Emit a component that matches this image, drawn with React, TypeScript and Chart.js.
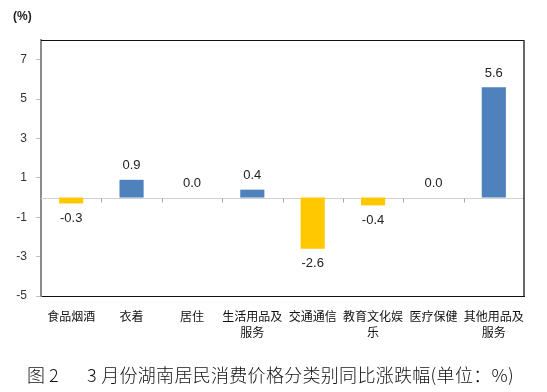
import React, { useEffect, useRef } from "react";
import { Chart, registerables } from "chart.js";

Chart.register(...registerables);

const categories: (string | string[])[] = [
  "食品烟酒",
  "衣着",
  "居住",
  ["生活用品及", "服务"],
  "交通通信",
  ["教育文化娱", "乐"],
  "医疗保健",
  ["其他用品及", "服务"],
];
const values: number[] = [-0.3, 0.9, 0.0, 0.4, -2.6, -0.4, 0.0, 5.6];
const yTicks: number[] = [-5, -3, -1, 1, 3, 5, 7];
const yMin = -5;
const yMax = 8;

const BLUE = "#4F81BD";
const YELLOW = "#FFC800";
const NUM_FONT = "'Liberation Sans', Arial, sans-serif";
const CJK_FONT = "'Noto Sans CJK SC', sans-serif";

const framePlugin = {
  id: "frame",
  beforeDatasetsDraw(chart: any) {
    const { ctx, chartArea, scales } = chart;
    const y0 = Math.round(scales.y.getPixelForValue(0)) + 0.5;
    ctx.save();
    ctx.strokeStyle = "#d0d0d0";
    ctx.lineWidth = 1;
    ctx.beginPath();
    ctx.moveTo(chartArea.left, y0);
    ctx.lineTo(chartArea.right, y0);
    ctx.stroke();
    const n = categories.length;
    ctx.strokeStyle = "#a6a6a6";
    for (let i = 1; i < n; i++) {
      const x = Math.round((scales.x.getPixelForValue(i - 1) + scales.x.getPixelForValue(i)) / 2) + 0.5;
      ctx.beginPath();
      ctx.moveTo(x, y0);
      ctx.lineTo(x, y0 + 4);
      ctx.stroke();
    }
    ctx.restore();
  },
  afterDraw(chart: any) {
    const { ctx, chartArea } = chart;
    ctx.save();
    ctx.strokeStyle = "#111";
    ctx.lineWidth = 1;
    ctx.beginPath();
    ctx.moveTo(chartArea.left, Math.round(chartArea.top) + 0.5);
    ctx.lineTo(chartArea.right, Math.round(chartArea.top) + 0.5);
    ctx.stroke();
    ctx.lineWidth = 1.5;
    ctx.strokeStyle = "#333";
    ctx.beginPath();
    ctx.moveTo(chartArea.right, chartArea.top);
    ctx.lineTo(chartArea.right, chartArea.bottom);
    ctx.stroke();
    ctx.restore();
  },
};

const labelPlugin = {
  id: "valueLabels",
  afterDatasetsDraw(chart: any) {
    const { ctx } = chart;
    const meta = chart.getDatasetMeta(0);
    ctx.save();
    ctx.font = `13px ${NUM_FONT}`;
    ctx.fillStyle = "#222";
    ctx.textAlign = "center";
    ctx.textBaseline = "middle";
    meta.data.forEach((el: any, i: number) => {
      const v = values[i];
      const y = v >= 0 ? el.y - 14 : el.y + 15;
      ctx.fillText(v.toFixed(1), el.x, y);
    });
    ctx.restore();
  },
};

export default function App() {
  const ref = useRef<HTMLCanvasElement>(null);

  useEffect(() => {
    if (!ref.current) return;
    const chart = new Chart(ref.current, {
      type: "bar",
      data: {
        labels: categories,
        datasets: [
          {
            data: values,
            backgroundColor: values.map((v) => (v < 0 ? YELLOW : BLUE)),
            borderWidth: 0,
            barPercentage: 0.4,
            categoryPercentage: 1,
          },
        ],
      },
      options: {
        animation: false,
        responsive: false,
        devicePixelRatio: 1,
        layout: { padding: { left: 0, top: 40, right: 23, bottom: 36 } },
        plugins: { legend: { display: false }, tooltip: { enabled: false } },
        scales: {
          x: {
            grid: { display: false, drawTicks: false },
            border: { display: true, color: "#111", width: 1 },
            ticks: {
              autoSkip: false,
              maxRotation: 0,
              minRotation: 0,
              padding: 13,
              color: "#111",
              font: { family: CJK_FONT, size: 12, lineHeight: 1.3 },
            },
            afterFit(scale: any) {
              scale.height = 60;
            },
          },
          y: {
            min: yMin,
            max: yMax,
            grid: { drawOnChartArea: false, drawTicks: true, tickLength: 5, color: "#c0c0c0" },
            border: { display: true, color: "#8c8c8c", width: 2 },
            ticks: {
              padding: 9,
              color: "#333",
              font: { family: NUM_FONT, size: 12 },
            },
            afterBuildTicks(scale: any) {
              scale.ticks = yTicks.map((v) => ({ value: v }));
            },
            afterFit(scale: any) {
              scale.width = 41;
            },
          },
        },
      },
      plugins: [framePlugin, labelPlugin],
    });
    return () => chart.destroy();
  }, []);

  return (
    <div style={{ position: "fixed", left: 0, top: 0, width: 547, height: 392, background: "#fff" }}>
      <canvas ref={ref} width={547} height={392} style={{ position: "absolute", left: 0, top: 0 }} />
      <div
        style={{
          position: "absolute",
          left: 13,
          top: 8,
          fontFamily: NUM_FONT,
          fontWeight: "bold",
          fontSize: 12,
          color: "#222",
          lineHeight: "16px",
        }}
      >
        (%)
      </div>
      <div
        style={{
          position: "absolute",
          left: 27,
          top: 364,
          fontFamily: CJK_FONT,
          fontSize: 18,
          fontWeight: 300,
          lineHeight: "20px",
          color: "#111",
          whiteSpace: "pre",
        }}
      >
        图 2
      </div>
      <div
        style={{
          position: "absolute",
          left: 87,
          top: 364,
          fontFamily: CJK_FONT,
          fontSize: 18,
          fontWeight: 300,
          lineHeight: "20px",
          letterSpacing: 0.3,
          color: "#111",
          whiteSpace: "pre",
        }}
      >
        3 月份湖南居民消费价格分类别同比涨跌幅(单位：%)
      </div>
    </div>
  );
}
